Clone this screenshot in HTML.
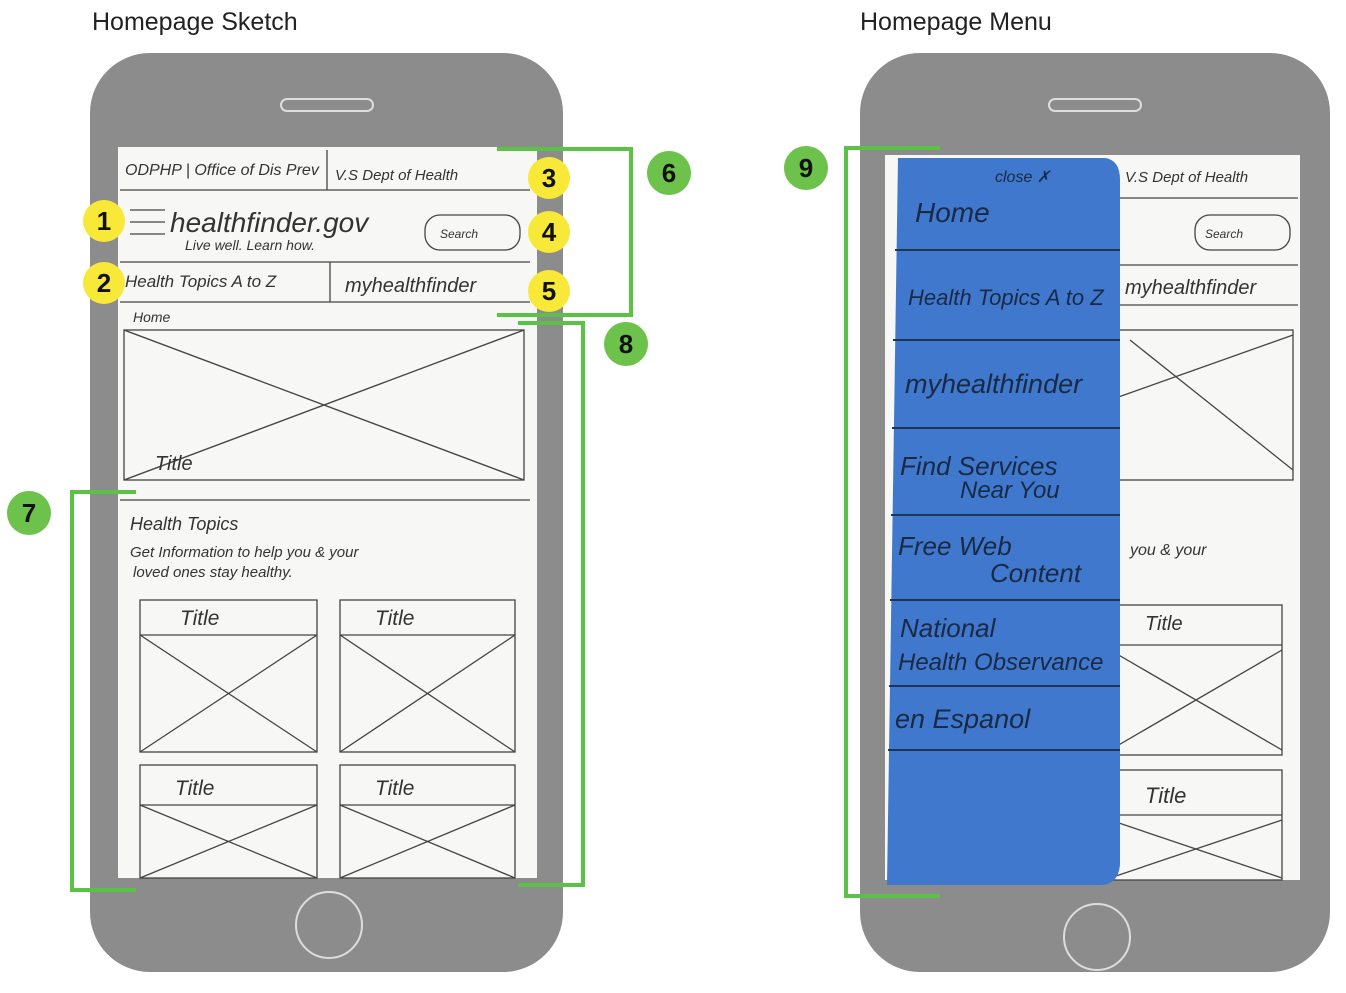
<!DOCTYPE html>
<html><head><meta charset="utf-8"><style>
body{margin:0;background:#fff;width:1346px;height:988px;overflow:hidden}
svg text{font-family:"Liberation Sans",sans-serif}
.h{font-family:"Liberation Serif",serif;font-style:italic;fill:#333}
</style></head><body>
<svg width="1346" height="988" viewBox="0 0 1346 988" xmlns="http://www.w3.org/2000/svg">
<text x="92" y="30" font-size="25" fill="#222">Homepage Sketch</text>
<text x="860" y="30" font-size="25" fill="#222">Homepage Menu</text>

<!-- left phone -->
<rect x="90" y="53" width="473" height="919" rx="60" fill="#8c8c8c"/>
<rect x="281" y="99" width="92" height="12" rx="6" fill="none" stroke="#ddd" stroke-width="2"/>
<circle cx="329" cy="925" r="33" fill="none" stroke="#ddd" stroke-width="2"/>
<rect x="118" y="147" width="419" height="731" fill="#f7f7f5"/>
<g stroke="#444" stroke-width="1.3" fill="none">
<line x1="120" y1="190" x2="530" y2="190"/><line x1="327" y1="150" x2="327" y2="190"/>
<line x1="120" y1="262" x2="530" y2="262"/><line x1="120" y1="302" x2="530" y2="302"/>
<line x1="330" y1="262" x2="330" y2="302"/>
<rect x="425" y="215" width="95" height="35" rx="15"/>
<line x1="130" y1="210" x2="165" y2="210"/><line x1="130" y1="222" x2="165" y2="222"/><line x1="130" y1="234" x2="165" y2="234"/>
<rect x="124" y="330" width="400" height="150"/>
<line x1="124" y1="330" x2="524" y2="480"/><line x1="524" y1="330" x2="124" y2="480"/>
<line x1="120" y1="500" x2="530" y2="500"/>
<rect x="140" y="600" width="177" height="152"/><line x1="140" y1="635" x2="317" y2="635"/>
<line x1="140" y1="635" x2="317" y2="752"/><line x1="317" y1="635" x2="140" y2="752"/>
<rect x="340" y="600" width="175" height="152"/><line x1="340" y1="635" x2="515" y2="635"/>
<line x1="340" y1="635" x2="515" y2="752"/><line x1="515" y1="635" x2="340" y2="752"/>
<rect x="140" y="765" width="177" height="113"/><line x1="140" y1="805" x2="317" y2="805"/>
<line x1="140" y1="805" x2="317" y2="878"/><line x1="317" y1="805" x2="140" y2="878"/>
<rect x="340" y="765" width="175" height="113"/><line x1="340" y1="805" x2="515" y2="805"/>
<line x1="340" y1="805" x2="515" y2="878"/><line x1="515" y1="805" x2="340" y2="878"/>
</g>
<g class="h">
<text x="125" y="175" font-size="16">ODPHP | Office of Dis Prev</text>
<text x="335" y="180" font-size="15">V.S Dept of Health</text>
<text x="170" y="232" font-size="28">healthfinder.gov</text>
<text x="185" y="250" font-size="14">Live well. Learn how.</text>
<text x="440" y="238" font-size="12">Search</text>
<text x="125" y="287" font-size="17">Health Topics A to Z</text>
<text x="345" y="292" font-size="20">myhealthfinder</text>
<text x="133" y="322" font-size="14">Home</text>
<text x="155" y="470" font-size="20">Title</text>
<text x="130" y="530" font-size="18">Health Topics</text>
<text x="130" y="557" font-size="15">Get Information to help you &amp; your</text>
<text x="133" y="577" font-size="15">loved ones stay healthy.</text>
<text x="180" y="625" font-size="21">Title</text><text x="375" y="625" font-size="21">Title</text>
<text x="175" y="795" font-size="21">Title</text><text x="375" y="795" font-size="21">Title</text>
</g>

<!-- right phone -->
<rect x="860" y="53" width="470" height="919" rx="60" fill="#8c8c8c"/>
<rect x="1049" y="99" width="92" height="12" rx="6" fill="none" stroke="#ddd" stroke-width="2"/>
<circle cx="1097" cy="937" r="33" fill="none" stroke="#ddd" stroke-width="2"/>
<rect x="885" y="155" width="415" height="725" fill="#f7f7f5"/>
<g stroke="#444" stroke-width="1.3" fill="none">
<line x1="1110" y1="198" x2="1298" y2="198"/><rect x="1195" y="215" width="95" height="35" rx="15"/>
<line x1="1110" y1="265" x2="1298" y2="265"/><line x1="1110" y1="305" x2="1298" y2="305"/>
<rect x="1110" y="330" width="183" height="150"/><line x1="1110" y1="400" x2="1293" y2="335"/><line x1="1130" y1="340" x2="1293" y2="470"/>
<rect x="1110" y="605" width="172" height="150"/><line x1="1110" y1="645" x2="1282" y2="645"/>
<line x1="1110" y1="650" x2="1282" y2="750"/><line x1="1282" y1="650" x2="1110" y2="750"/>
<rect x="1110" y="770" width="172" height="110"/><line x1="1110" y1="815" x2="1282" y2="815"/>
<line x1="1110" y1="820" x2="1282" y2="878"/><line x1="1282" y1="820" x2="1110" y2="878"/>
</g>
<g class="h">
<text x="1125" y="182" font-size="15">V.S Dept of Health</text>
<text x="1205" y="238" font-size="12">Search</text>
<text x="1125" y="294" font-size="20">myhealthfinder</text>
<text x="1130" y="555" font-size="16">you &amp; your</text>
<text x="1145" y="630" font-size="20">Title</text>
<text x="1145" y="803" font-size="22">Title</text>
</g>
<path d="M898 158 L1105 158 Q1120 160 1120 180 L1120 865 Q1118 885 1100 885 L887 885 Z" fill="#3f78cc"/>
<g stroke="#1f3550" stroke-width="2">
<line x1="895" y1="250" x2="1120" y2="250"/><line x1="893" y1="340" x2="1120" y2="340"/>
<line x1="892" y1="428" x2="1120" y2="428"/><line x1="891" y1="515" x2="1120" y2="515"/>
<line x1="890" y1="600" x2="1120" y2="600"/><line x1="889" y1="686" x2="1120" y2="686"/>
<line x1="888" y1="750" x2="1120" y2="750"/>
</g>
<g class="h" style="fill:#1a2a44">
<text x="995" y="182" font-size="16">close ✗</text>
<text x="915" y="222" font-size="28">Home</text>
<text x="908" y="305" font-size="22">Health Topics A to Z</text>
<text x="905" y="393" font-size="27">myhealthfinder</text>
<text x="900" y="475" font-size="26">Find Services</text>
<text x="960" y="498" font-size="24">Near You</text>
<text x="898" y="555" font-size="26">Free Web</text>
<text x="990" y="582" font-size="26">Content</text>
<text x="900" y="637" font-size="26">National</text>
<text x="898" y="670" font-size="24">Health Observance</text>
<text x="895" y="728" font-size="27">en Espanol</text>
</g>

<!-- brackets -->
<g stroke="#5cc247" stroke-width="4" fill="none">
<polyline points="497,149 631,149 631,315 497,315"/>
<polyline points="518,323 583,323 583,885 518,885"/>
<polyline points="136,492 72,492 72,890 136,890"/>
<polyline points="940,148 846,148 846,896 940,896"/>
</g>
<g font-weight="bold" font-size="26" text-anchor="middle">
<g fill="#f8e838"><circle cx="104" cy="221" r="21"/><circle cx="104" cy="283" r="21"/><circle cx="549" cy="178" r="21"/><circle cx="549" cy="232" r="21"/><circle cx="549" cy="291" r="21"/></g>
<g fill="#6cc24a"><circle cx="669" cy="173" r="22"/><circle cx="626" cy="344" r="22"/><circle cx="29" cy="513" r="22"/><circle cx="806" cy="168" r="22"/></g>
<g fill="#111">
<text x="104" y="230">1</text><text x="104" y="292">2</text><text x="549" y="187">3</text><text x="549" y="241">4</text><text x="549" y="300">5</text>
<text x="669" y="182">6</text><text x="626" y="353">8</text><text x="29" y="522">7</text><text x="806" y="177">9</text>
</g></g>
</svg>
</body></html>
